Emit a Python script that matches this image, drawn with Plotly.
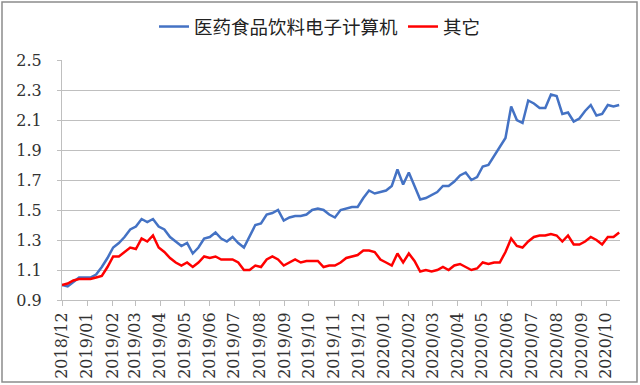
import datetime as dt
import plotly.graph_objects as go

start_date = "2018-12-01"
n_weeks = 99

series_a_name = "医药食品饮料电子计算机"
series_b_name = "其它"

series_a = [
    1.00, 0.99, 1.02, 1.05, 1.05, 1.05, 1.07, 1.12, 1.18, 1.25,
    1.28, 1.32, 1.37, 1.39, 1.44, 1.42, 1.44, 1.39, 1.37, 1.32,
    1.29, 1.26, 1.28, 1.21, 1.25, 1.31, 1.32, 1.35, 1.31, 1.29,
    1.32, 1.28, 1.25, 1.33, 1.40, 1.41, 1.47, 1.48, 1.50, 1.43,
    1.45, 1.46, 1.46, 1.47, 1.50, 1.51, 1.50, 1.47, 1.45, 1.50,
    1.51, 1.52, 1.52, 1.58, 1.63, 1.61, 1.62, 1.63, 1.66, 1.77,
    1.67, 1.75, 1.66, 1.57, 1.58, 1.60, 1.62, 1.66, 1.66, 1.69,
    1.73, 1.75, 1.70, 1.72, 1.79, 1.80, 1.86, 1.92, 1.98, 2.19,
    2.10, 2.08, 2.23, 2.21, 2.18, 2.18, 2.27, 2.26, 2.14, 2.15,
    2.09, 2.11, 2.16, 2.20, 2.13, 2.14, 2.20, 2.19, 2.20,
]

series_b = [
    1.00, 1.01, 1.03, 1.04, 1.04, 1.04, 1.05, 1.06, 1.12, 1.19,
    1.19, 1.22, 1.25, 1.24, 1.31, 1.29, 1.33, 1.25, 1.22, 1.18,
    1.15, 1.13, 1.15, 1.12, 1.15, 1.19, 1.18, 1.19, 1.17, 1.17,
    1.17, 1.15, 1.10, 1.10, 1.13, 1.12, 1.17, 1.19, 1.17, 1.13,
    1.15, 1.17, 1.15, 1.16, 1.16, 1.16, 1.12, 1.13, 1.13, 1.15,
    1.18, 1.19, 1.20, 1.23, 1.23, 1.22, 1.17, 1.15, 1.13, 1.21,
    1.15, 1.21, 1.16, 1.09, 1.10, 1.09, 1.10, 1.12, 1.10, 1.13,
    1.14, 1.12, 1.10, 1.11, 1.15, 1.14, 1.15, 1.15, 1.22, 1.31,
    1.26, 1.25, 1.29, 1.32, 1.33, 1.33, 1.34, 1.33, 1.29, 1.33,
    1.27, 1.27, 1.29, 1.32, 1.30, 1.27, 1.32, 1.32, 1.35,
]

y_ticks = [0.9, 1.1, 1.3, 1.5, 1.7, 1.9, 2.1, 2.3, 2.5]

d0 = dt.date.fromisoformat(start_date)
dates = [d0 + dt.timedelta(days=7 * i) for i in range(n_weeks)]

fig = go.Figure()
fig.add_trace(go.Scatter(x=dates, y=series_a, mode="lines", name=series_a_name,
                         line=dict(color="#4472C4", width=2.5)))
fig.add_trace(go.Scatter(x=dates, y=series_b, mode="lines", name=series_b_name,
                         line=dict(color="#FF0000", width=2.5)))

tick_font = dict(family="DejaVu Serif", size=16, color="#333333")

fig.update_layout(
    width=640, height=385,
    margin=dict(l=62, r=20, t=60, b=85, autoexpand=False),
    paper_bgcolor="white", plot_bgcolor="white",
    showlegend=True,
    legend=dict(orientation="h", xref="container", yref="container",
                x=0.5, xanchor="center", y=1 - 27 / 385, yanchor="middle",
                font=dict(family="Noto Sans CJK SC", size=18.5, color="#222222"),
                itemwidth=30),
    xaxis=dict(type="date", range=[dates[0], dates[-1] + dt.timedelta(days=1)],
               tick0=start_date, dtick="M1", tickformat="%Y/%m",
               tickangle=-90, tickfont=tick_font, automargin=False,
               showgrid=False, showline=True, linecolor="#BFBFBF", linewidth=1,
               ticks="outside", ticklen=5, tickcolor="#BFBFBF"),
    yaxis=dict(range=[0.9, 2.5], tickvals=y_ticks, tickformat=".1f",
               tickfont=tick_font, showgrid=True, gridcolor="#BFBFBF", gridwidth=1,
               showline=True, linecolor="#BFBFBF", linewidth=1, automargin=False,
               ticks="outside", ticklen=4, tickcolor="#BFBFBF",
               ticklabelstandoff=12, zeroline=False),
)

fig.add_shape(type="rect", xref="paper", yref="paper",
              x0=(2 - 62) / 558, x1=(637 - 62) / 558,
              y0=(300 - 382) / 240, y1=(300 - 2) / 240,
              line=dict(color="#8C8C8C", width=1.5), fillcolor="rgba(0,0,0,0)",
              layer="below")

fig.write_html(
    "out.html",
    config={"displayModeBar": False},
    post_script="document.body.style.margin='0';document.body.style.overflow='hidden';",
)
